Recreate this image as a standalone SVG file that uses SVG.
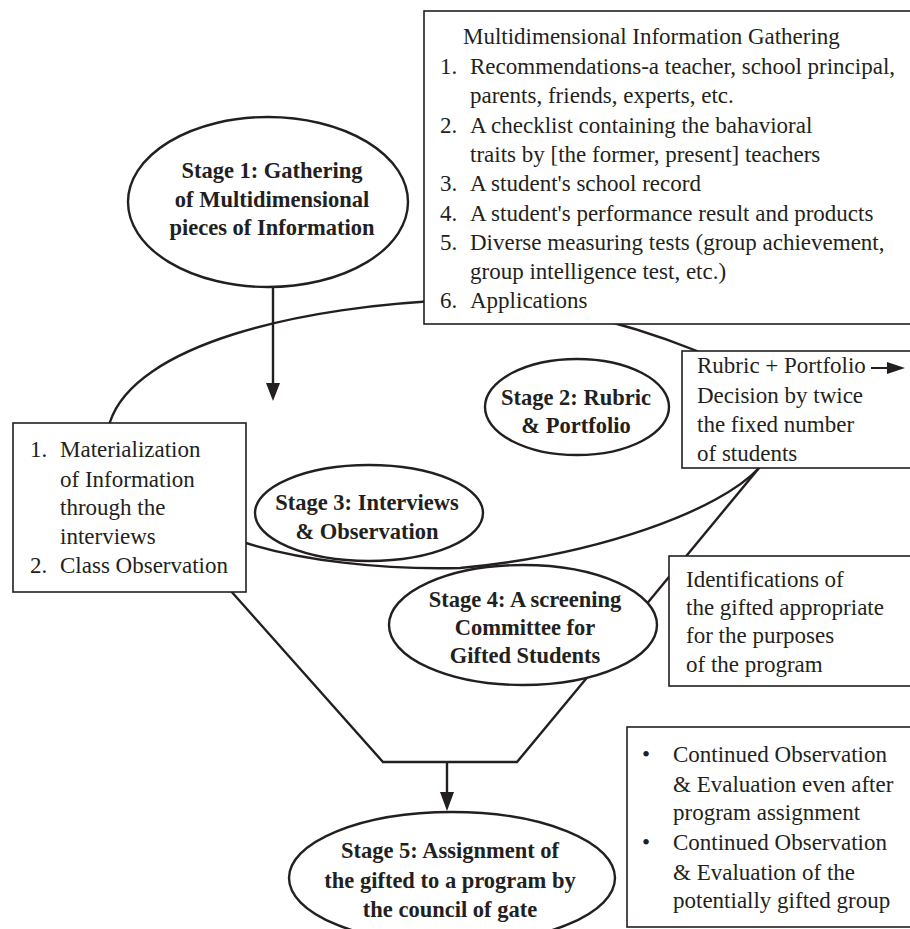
<svg xmlns="http://www.w3.org/2000/svg" width="910" height="929" viewBox="0 0 910 929">
<style>
  .bg { fill: #ffffff; }
  .box { fill: #ffffff; stroke: #231f20; stroke-width: 1.6; }
  .ell { fill: #ffffff; stroke: #231f20; stroke-width: 2.4; }
  .ln { fill: none; stroke: #231f20; stroke-width: 2.4; }
  .head { fill: #231f20; }
  .t { font-family: "Liberation Serif", "Times New Roman", serif; font-size: 23px; fill: #231f20; }
  .b { font-family: "Liberation Serif", "Times New Roman", serif; font-size: 22.5px; font-weight: bold; fill: #231f20; text-anchor: middle; }
</style>
<rect class="bg" x="0" y="0" width="910" height="929"/>

<g id="connectors">
  <path id="stage2-ring" class="ln" d="M 110,422 C 135,345 300,305 460,300 C 530,299 620,320 697,351 C 780,385 790,440 759,468 C 720,510 600,555 460,568 C 380,570 300,560 246,543 C 160,515 95,470 110,422 Z"/>
  <line class="ln" x1="759" y1="468" x2="645" y2="606"/>
  <polyline class="ln" points="230,590 383,762 517,762 590,674"/>
  <line class="ln" x1="273" y1="287" x2="273" y2="385"/>
  <polygon class="head" points="266,383 280,383 273,401"/>
  <line class="ln" x1="447" y1="762" x2="447" y2="794"/>
  <polygon class="head" points="440,792 454,792 447,811"/>
</g>

<g id="info-box">
  <rect class="box" x="424" y="11" width="500" height="313"/>
  <text class="t" x="463" y="44">Multidimensional Information Gathering</text>
  <text class="t" x="440" y="74">1.</text>
  <text class="t" x="470" y="74">Recommendations-a teacher, school principal,</text>
  <text class="t" x="470" y="103">parents, friends, experts, etc.</text>
  <text class="t" x="440" y="133">2.</text>
  <text class="t" x="470" y="133">A checklist containing the bahavioral</text>
  <text class="t" x="470" y="162">traits by [the former, present] teachers</text>
  <text class="t" x="440" y="191">3.</text>
  <text class="t" x="470" y="191">A student's school record</text>
  <text class="t" x="440" y="221">4.</text>
  <text class="t" x="470" y="221">A student's performance result and products</text>
  <text class="t" x="440" y="250">5.</text>
  <text class="t" x="470" y="250">Diverse measuring tests (group achievement,</text>
  <text class="t" x="470" y="279">group intelligence test, etc.)</text>
  <text class="t" x="440" y="308">6.</text>
  <text class="t" x="470" y="308">Applications</text>
</g>

<g id="stage1">
  <ellipse class="ell" cx="268" cy="202" rx="140" ry="85"/>
  <text class="b" x="272" y="178">Stage 1: Gathering</text>
  <text class="b" x="272" y="207">of Multidimensional</text>
  <text class="b" x="272" y="235">pieces of Information</text>
</g>

<g id="rubric-box">
  <rect class="box" x="682" y="351" width="240" height="117"/>
  <text class="t" x="697" y="373">Rubric + Portfolio</text>
  <line class="ln" x1="871" y1="368" x2="890" y2="368" style="stroke-width:2"/>
  <polygon class="head" points="887,362 905,368 887,374"/>
  <text class="t" x="697" y="403">Decision by twice</text>
  <text class="t" x="697" y="432">the fixed number</text>
  <text class="t" x="697" y="461">of students</text>
</g>

<g id="stage2">
  <ellipse class="ell" cx="577" cy="407" rx="92" ry="48"/>
  <text class="b" x="576" y="405">Stage 2: Rubric</text>
  <text class="b" x="576" y="433">&amp; Portfolio</text>
</g>

<g id="interview-box">
  <rect class="box" x="13" y="423" width="233" height="169"/>
  <text class="t" x="30" y="457">1.</text>
  <text class="t" x="60" y="457">Materialization</text>
  <text class="t" x="60" y="487">of Information</text>
  <text class="t" x="60" y="515">through the</text>
  <text class="t" x="60" y="544">interviews</text>
  <text class="t" x="30" y="573">2.</text>
  <text class="t" x="60" y="573">Class Observation</text>
</g>

<g id="stage3">
  <ellipse class="ell" cx="369" cy="513" rx="114" ry="48"/>
  <text class="b" x="367" y="510">Stage 3: Interviews</text>
  <text class="b" x="367" y="539">&amp; Observation</text>
</g>

<g id="identification-box">
  <rect class="box" x="669" y="556" width="250" height="130"/>
  <text class="t" x="686" y="587">Identifications of</text>
  <text class="t" x="686" y="615">the gifted appropriate</text>
  <text class="t" x="686" y="643">for the purposes</text>
  <text class="t" x="686" y="672">of the program</text>
</g>

<g id="stage4">
  <ellipse class="ell" cx="523" cy="625" rx="134" ry="60"/>
  <text class="b" x="525" y="607">Stage 4: A screening</text>
  <text class="b" x="525" y="635">Committee for</text>
  <text class="b" x="525" y="663">Gifted Students</text>
</g>

<g id="continued-box">
  <rect class="box" x="627" y="727" width="295" height="200"/>
  <text class="t" x="642" y="762">•</text>
  <text class="t" x="673" y="762">Continued Observation</text>
  <text class="t" x="673" y="792">&amp; Evaluation even after</text>
  <text class="t" x="673" y="820">program assignment</text>
  <text class="t" x="642" y="850">•</text>
  <text class="t" x="673" y="850">Continued Observation</text>
  <text class="t" x="673" y="880">&amp; Evaluation of the</text>
  <text class="t" x="673" y="908">potentially gifted group</text>
</g>

<g id="stage5">
  <ellipse class="ell" cx="452" cy="878" rx="163" ry="66"/>
  <text class="b" x="450" y="858">Stage 5: Assignment of</text>
  <text class="b" x="450" y="888">the gifted to a program by</text>
  <text class="b" x="450" y="917">the council of gate</text>
</g>
</svg>
